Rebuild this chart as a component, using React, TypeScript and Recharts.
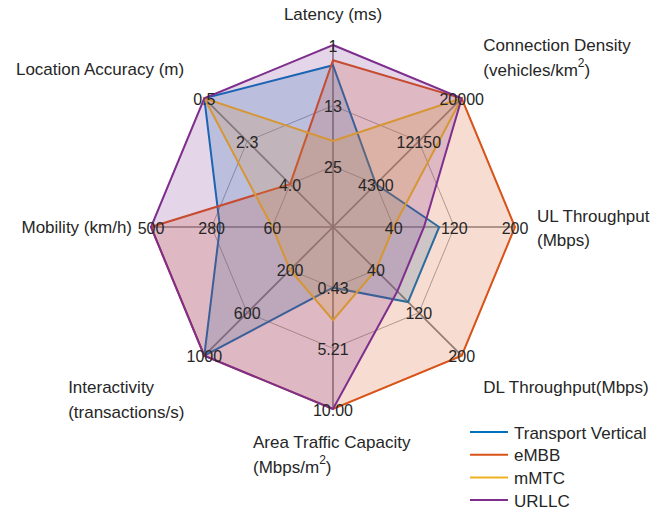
import React from 'react';
import { RadarChart, Radar, PolarGrid, PolarAngleAxis, PolarRadiusAxis, Legend } from 'recharts';

// ---------- data ----------
const categories = [
  'Latency',
  'Connection Density',
  'UL Throughput',
  'DL Throughput',
  'Area Traffic Capacity',
  'Interactivity',
  'Mobility',
  'Location Accuracy',
];

// axis title lines ("^2" marks a superscript 2)
const axisTitles: string[][] = [
  ['Latency (ms)'],
  ['Connection Density', '(vehicles/km^2)'],
  ['UL Throughput', '(Mbps)'],
  ['DL Throughput(Mbps)'],
  ['Area Traffic Capacity', '(Mbps/m^2)'],
  ['Interactivity', '(transactions/s)'],
  ['Mobility (km/h)'],
  ['Location Accuracy (m)'],
];

// values at the 1st, 2nd and 3rd (outer) ring of each axis
const tickValues = [
  [25, 13, 1],
  [4300, 12150, 20000],
  [40, 120, 200],
  [40, 120, 200],
  [0.43, 5.21, 10],
  [200, 600, 1000],
  [60, 280, 500],
  [4.0, 2.3, 0.5],
];
const tickLabels = [
  ['25', '13', '1'],
  ['4300', '12150', '20000'],
  ['40', '120', '200'],
  ['40', '120', '200'],
  ['0.43', '5.21', '10.00'],
  ['200', '600', '1000'],
  ['60', '280', '500'],
  ['4.0', '2.3', '0.5'],
];

const seriesNames = ['Transport Vertical', 'eMBB', 'mMTC', 'URLLC'];
const seriesKeys = ['tv', 'embb', 'mmtc', 'urllc'];
const seriesColors = ['#0072BD', '#D95319', '#EDB120', '#7E2F8E'];

const transportVertical = [5, 4300, 100, 100, 0.43, 1000, 250, 0.5];
const eMBB = [4, 20000, 200, 200, 10, 1000, 500, 4.0];
const mMTC = [20, 20000, 40, 40, 3, 200, 60, 0.5];
const URLLC = [1, 20000, 80, 80, 10, 1000, 500, 0.5];

const seriesValues = [transportVertical, eMBB, mMTC, URLLC];
const ringTicks = [1 / 3, 2 / 3, 1];

// map a raw value to the radial fraction (ring 1 = 1/3, outer ring = 1)
const norm = (v: number, axis: number) => {
  const [t0, , t2] = tickValues[axis];
  return 1 / 3 + ((v - t0) / (t2 - t0)) * (2 / 3);
};

const data = categories.map((c, i) => {
  const row: any = { axis: c };
  seriesKeys.forEach((k, s) => {
    row[k] = norm(seriesValues[s][i], i);
  });
  return row;
});

// ---------- layout / style ----------
const W = 670;
const H = 512;
const CX = 333;
const CY = 227;
const R = 182;
const FONT = '"Liberation Sans", Arial, Helvetica, sans-serif';
const TEXT = '#262626';

// title placement relative to point at radius R+8 along each spoke
const titleLayout = [
  { anchor: 'middle', dx: 0, dy: -23 },
  { anchor: 'start', dx: 16, dy: -47.5 },
  { anchor: 'start', dx: 14, dy: -11 },
  { anchor: 'start', dx: 16, dy: 26.5 },
  { anchor: 'start', dx: -80, dy: 25 },
  { anchor: 'start', dx: -130.5, dy: 26.5 },
  { anchor: 'end', dx: -11, dy: 0.5 },
  { anchor: 'end', dx: -14.5, dy: -23.5 },
];
const LINE_GAP = 24.5;

const renderLine = (line: string) => {
  const idx = line.indexOf('^2');
  if (idx < 0) return line;
  return (
    <>
      <tspan>{line.slice(0, idx)}</tspan>
      <tspan dy={-7} fontSize={12}>2</tspan>
      <tspan dy={7}>{line.slice(idx + 2)}</tspan>
    </>
  );
};

const AngleTick = (props: any) => {
  const { payload } = props;
  const i = categories.indexOf(payload?.value);
  if (i < 0) return null;
  const ang = ((90 - i * 45) * Math.PI) / 180;
  const cos = Math.cos(ang);
  const sin = Math.sin(ang);
  const bx = CX + (R + 8) * cos;
  const by = CY - (R + 8) * sin;
  const lay = titleLayout[i];
  return (
    <g>
      {ringTicks.map((t, k) => (
        <text
          key={'t' + k}
          x={CX + R * t * cos}
          y={CY - R * t * sin + 1}
          textAnchor="middle"
          dominantBaseline="central"
          fontFamily={FONT}
          fontSize={16}
          fill={TEXT}
        >
          {tickLabels[i][k]}
        </text>
      ))}
      {axisTitles[i].map((line, k) => (
        <text
          key={k}
          x={bx + lay.dx}
          y={by + lay.dy + k * LINE_GAP}
          textAnchor={lay.anchor as any}
          dominantBaseline="central"
          fontFamily={FONT}
          fontSize={17}
          fill={TEXT}
        >
          {renderLine(line)}
        </text>
      ))}
    </g>
  );
};

const renderLegend = () => (
  <svg width={200} height={95} style={{ overflow: 'visible' }}>
    {seriesNames.map((name, i) => {
      const y = 12 + i * 22.7;
      return (
        <g key={name}>
          <line x1={4} x2={42} y1={y} y2={y} stroke={seriesColors[i]} strokeWidth={2} />
          <text
            x={48}
            y={y + 1}
            dominantBaseline="central"
            fontFamily={FONT}
            fontSize={17}
            fill={TEXT}
          >
            {name}
          </text>
        </g>
      );
    })}
  </svg>
);

export default function App() {
  return (
    <div style={{ position: 'absolute', left: 0, top: 0, width: W, height: H, background: '#fff' }}>
      <RadarChart
        width={W}
        height={H}
        data={data}
        cx={CX}
        cy={CY}
        outerRadius={R}
        startAngle={90}
        endAngle={-270}
        margin={{ top: 0, right: 0, bottom: 0, left: 0 }}
      >
        <PolarGrid gridType="polygon" radialLines={false} stroke="#a0a0a0" strokeWidth={0.9} />
        <PolarGrid gridType="polygon" polarRadius={[]} stroke="#888888" strokeWidth={1.7} />
        <PolarRadiusAxis
          angle={90}
          type="number"
          domain={[0, 1]}
          ticks={ringTicks}
          axisLine={false}
          tick={false}
        />
        {seriesKeys.map((k, s) => (
          <Radar
            key={k}
            name={seriesNames[s]}
            dataKey={k}
            stroke={seriesColors[s]}
            strokeWidth={2}
            fill={seriesColors[s]}
            fillOpacity={0.2}
            dot={false}
            isAnimationActive={false}
          />
        ))}
        <PolarAngleAxis dataKey="axis" tick={AngleTick} tickLine={false} axisLine={false} />
        <Legend
          layout="vertical"
          align="right"
          verticalAlign="bottom"
          content={renderLegend}
          wrapperStyle={{ position: 'absolute', left: 466, top: 420, width: 200, height: 95 }}
        />
      </RadarChart>
    </div>
  );
}
